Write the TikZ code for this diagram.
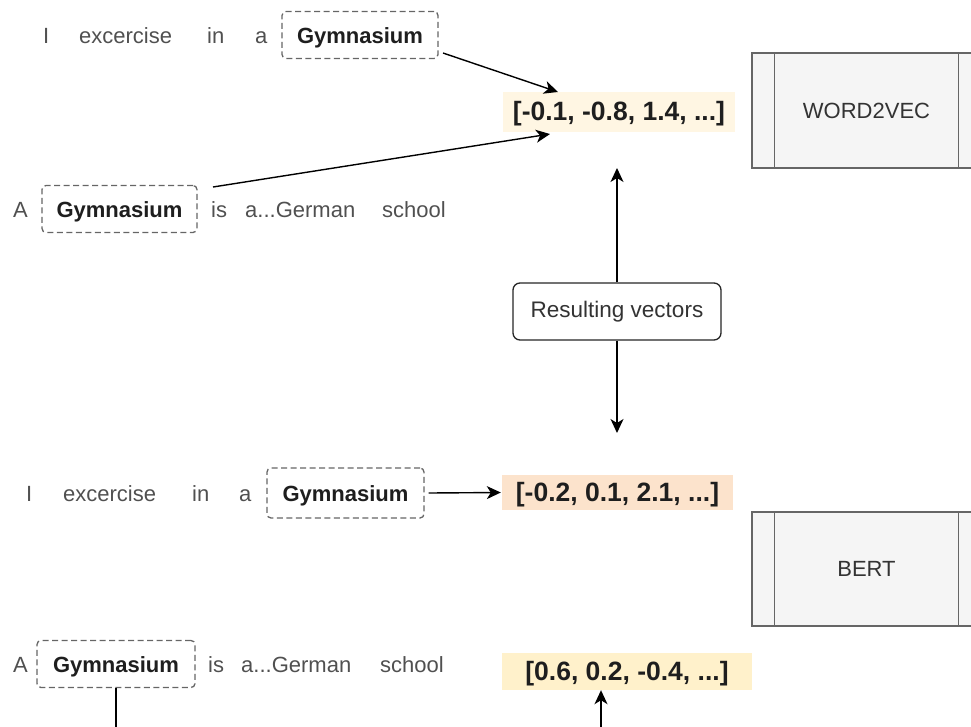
\documentclass[tikz,border=0pt]{standalone}
\usepackage{fontspec}
\setmainfont{Liberation Sans}
\usetikzlibrary{arrows.meta,calc}
\definecolor{wordgray}{HTML}{505050}
\definecolor{darktext}{HTML}{1E1E1E}
\definecolor{boxgray}{HTML}{666666}
\definecolor{procfill}{HTML}{F5F5F5}
\definecolor{vecA}{HTML}{FFF6E3}
\definecolor{vecB}{HTML}{FCE3CC}
\definecolor{vecC}{HTML}{FFF1CB}
\tikzset{
  word/.style={inner sep=0pt, anchor=base west, text=wordgray, font=\fontsize{22}{26}\selectfont},
  gbox/.style={draw=boxgray, line width=1.3pt, dash pattern=on 6pt off 3.5pt, rounded corners=4pt,
    inner sep=0pt, minimum width=#1, minimum height=47pt, text height=16pt, text depth=0pt,
    text=darktext, font=\fontsize{22}{26}\selectfont\bfseries},
  vecbox/.style={fill=#1, draw=none, inner sep=0pt, minimum height=38pt, text height=18pt, text depth=1pt,
    text=darktext, font=\fontsize{26.5}{30}\selectfont\bfseries},
  procbox/.style={draw=boxgray, line width=1.2pt, fill=procfill, minimum width=229pt, minimum height=115pt,
    inner sep=0pt, text=black!80, font=\fontsize{22}{26}\selectfont},
  roundbox/.style={draw=black!85, line width=1.3pt, rounded corners=7pt, fill=white, minimum width=208pt,
    minimum height=57pt, inner sep=0pt, text=black!80, font=\fontsize{22.5}{26}\selectfont},
  conn/.style={draw=black, line width=1.4pt},
  arr/.style={conn, -{Stealth[length=14pt,width=13pt,inset=4pt]}}
}
\begin{document}
\begin{tikzpicture}[x=1pt,y=-1pt]
\useasboundingbox (0,0) rectangle (971,726);

% ---------- WORD2VEC part ----------
\node[word] (t1) at (43,43) {I};
\node[word] (t2) at (79,43) {excercise};
\node[word] (t3) at (207,43) {in};
\node[word] (t4) at (255,43) {a};
\node[gbox=156pt] (g1) at (360,35) {Gymnasium};

\node[word] (s1) at (13,217) {A};
\node[gbox=155pt] (g2) at (119.5,209) {Gymnasium};
\node[word] (s2) at (211,217) {is};
\node[word] (s3) at (245,217) {a...German};
\node[word] (s4) at (382,217) {school};

\node[vecbox=vecA, minimum width=232pt, minimum height=40pt] (v1) at (619,112) {[-0.1, -0.8, 1.4, ...]};

\node[procbox] (w2v) at (866.5,110.5) {WORD2VEC};
\draw[boxgray, line width=1.2pt] ($(w2v.north west)+(23,0)$) -- ($(w2v.south west)+(23,0)$);
\draw[boxgray, line width=1.2pt] ($(w2v.north east)+(-23,0)$) -- ($(w2v.south east)+(-23,0)$);

\coordinate (a1s) at (443,53);
\coordinate (a1e) at (558,92);
\coordinate (a2s) at (213,187);
\coordinate (a2e) at (550,134);
\draw[arr] (a1s) -- (a1e);
\draw[arr] (a2s) -- (a2e);

% ---------- middle ----------
\node[roundbox] (rv) at (617,311.5) {Resulting vectors};
\coordinate (upend) at (617,168);
\coordinate (downend) at (617,433);
\draw[arr] (rv.north) -- (upend);
\draw[arr] (rv.south) -- (downend);

% ---------- BERT part ----------
\node[word] (b1) at (26,501) {I};
\node[word] (b2) at (63,501) {excercise};
\node[word] (b3) at (192,501) {in};
\node[word] (b4) at (239,501) {a};
\node[gbox=157pt, minimum height=50pt] (g3) at (345.5,493) {Gymnasium};

\node[vecbox=vecB, minimum width=231pt, minimum height=35pt] (v2) at (617.5,492.5) {[-0.2, 0.1, 2.1, ...]};
\draw[arr] ($(g3.east)+(4,0)$) -- ($(v2.west)+(-1,0)$);

\node[procbox, minimum height=114pt] (bert) at (866.5,569) {BERT};
\draw[boxgray, line width=1.2pt] ($(bert.north west)+(23,0)$) -- ($(bert.south west)+(23,0)$);
\draw[boxgray, line width=1.2pt] ($(bert.north east)+(-23,0)$) -- ($(bert.south east)+(-23,0)$);

\node[word] (c1) at (13,672) {A};
\node[gbox=158pt] (g4) at (116,664) {Gymnasium};
\node[word] (c2) at (208,672) {is};
\node[word] (c3) at (241,672) {a...German};
\node[word] (c4) at (380,672) {school};

\node[vecbox=vecC, minimum width=250pt, minimum height=37pt] (v3) at (627,671.5) {[0.6, 0.2, -0.4, ...]};

\coordinate (g4end) at (116,730);
\draw[conn] (g4.south) -- (g4end);
\coordinate (v3start) at (601,730);
\draw[arr] (v3start) -- (v3.south -| v3start);
\end{tikzpicture}
\end{document}
